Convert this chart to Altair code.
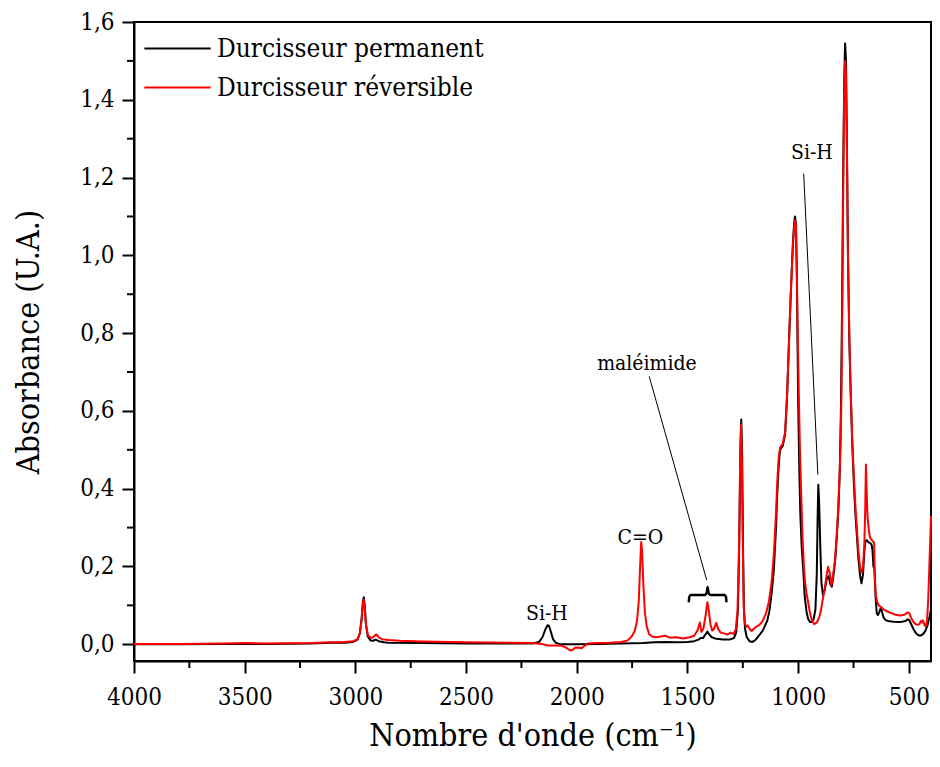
import altair as alt
import pandas as pd

SERIES = ["Durcisseur permanent", "Durcisseur réversible"]
COLORS = ["#000000", "#ff0000"]

PERMANENT = [
    (4000, 0.000), (3800, 0.000), (3600, 0.001), (3400, 0.001), (3200, 0.002), (3110, 0.004),
    (3050, 0.004), (3010, 0.006), (2990, 0.012), (2980, 0.028), (2972, 0.065), (2966, 0.110),
    (2962, 0.121), (2958, 0.100), (2952, 0.050), (2944, 0.020), (2932, 0.010), (2920, 0.009),
    (2908, 0.012), (2895, 0.008), (2870, 0.005), (2850, 0.004), (2700, 0.003), (2500, 0.002),
    (2300, 0.002), (2200, 0.002), (2170, 0.006), (2155, 0.018), (2142, 0.038), (2132, 0.049),
    (2125, 0.047), (2117, 0.032), (2108, 0.014), (2095, 0.004), (2080, 0.001), (2050, 0.000),
    (2000, 0.000), (1900, 0.001), (1800, 0.002), (1700, 0.003), (1650, 0.005), (1600, 0.006),
    (1550, 0.005), (1500, 0.006), (1470, 0.008), (1450, 0.012), (1440, 0.016), (1430, 0.016),
    (1420, 0.024), (1410, 0.033), (1400, 0.024), (1390, 0.018), (1370, 0.014), (1340, 0.012),
    (1310, 0.012), (1290, 0.016), (1280, 0.030), (1272, 0.090), (1266, 0.260), (1261, 0.500),
    (1257, 0.578), (1253, 0.480), (1249, 0.250), (1245, 0.090), (1240, 0.040), (1232, 0.018),
    (1220, 0.008), (1207, 0.006), (1195, 0.010), (1180, 0.020), (1160, 0.035), (1140, 0.060),
    (1130, 0.085), (1120, 0.130), (1110, 0.190), (1100, 0.300), (1095, 0.380), (1088, 0.460),
    (1082, 0.500), (1070, 0.510), (1059, 0.540), (1050, 0.640), (1040, 0.800), (1032, 0.920),
    (1024, 1.030), (1018, 1.085), (1014, 1.100), (1010, 1.080), (1006, 0.950), (1003, 0.780),
    (1000, 0.620), (995, 0.450), (990, 0.330), (984, 0.250), (977, 0.190), (970, 0.120),
    (962, 0.083), (955, 0.065), (947, 0.057), (938, 0.058), (930, 0.065), (922, 0.090),
    (916, 0.180), (912, 0.330), (909, 0.410), (905, 0.360), (900, 0.250), (895, 0.160),
    (888, 0.126), (880, 0.140), (870, 0.170), (862, 0.175), (855, 0.155), (848, 0.148),
    (840, 0.180), (832, 0.220), (825, 0.280), (818, 0.350), (812, 0.450), (807, 0.600),
    (802, 0.850), (797, 1.200), (792, 1.450), (788, 1.545), (784, 1.500), (780, 1.300),
    (775, 1.000), (769, 0.780), (763, 0.650), (756, 0.520), (749, 0.420), (742, 0.340),
    (735, 0.280), (728, 0.220), (720, 0.175), (714, 0.157), (707, 0.180), (701, 0.240),
    (696, 0.265), (690, 0.268), (682, 0.262), (674, 0.260), (668, 0.255), (664, 0.240),
    (660, 0.200), (656, 0.195), (650, 0.120), (645, 0.080), (640, 0.075), (634, 0.082),
    (628, 0.092), (622, 0.085), (615, 0.070), (605, 0.062), (593, 0.060), (570, 0.058),
    (540, 0.057), (515, 0.060), (505, 0.064), (498, 0.062), (490, 0.052), (480, 0.040),
    (470, 0.030), (459, 0.024), (448, 0.022), (436, 0.026), (425, 0.035), (415, 0.050),
    (407, 0.070), (400, 0.090),
]

REVERSIBLE = [
    (4000, 0.001), (3800, 0.001), (3600, 0.002), (3500, 0.003), (3400, 0.002), (3200, 0.003),
    (3110, 0.005), (3050, 0.006), (3010, 0.008), (2990, 0.013), (2980, 0.028), (2972, 0.062),
    (2966, 0.105), (2962, 0.115), (2958, 0.095), (2952, 0.050), (2944, 0.025), (2932, 0.016),
    (2920, 0.018), (2910, 0.024), (2904, 0.025), (2895, 0.018), (2880, 0.013), (2850, 0.011),
    (2800, 0.009), (2700, 0.007), (2500, 0.005), (2300, 0.004), (2200, 0.003), (2160, 0.001),
    (2130, -0.003), (2100, -0.003), (2065, -0.004), (2045, -0.010), (2030, -0.016),
    (2018, -0.014), (2005, -0.008), (1990, -0.009), (1978, -0.010), (1965, -0.004),
    (1950, 0.002), (1900, 0.003), (1850, 0.004), (1800, 0.006), (1770, 0.010), (1752, 0.020),
    (1738, 0.035), (1728, 0.060), (1720, 0.110), (1714, 0.200), (1709, 0.263), (1705, 0.240),
    (1699, 0.150), (1692, 0.080), (1684, 0.045), (1673, 0.026), (1660, 0.020), (1640, 0.018),
    (1620, 0.020), (1600, 0.022), (1580, 0.017), (1550, 0.018), (1520, 0.015), (1490, 0.018),
    (1470, 0.022), (1455, 0.035), (1444, 0.056), (1437, 0.032), (1428, 0.040), (1418, 0.075),
    (1410, 0.108), (1403, 0.085), (1396, 0.050), (1388, 0.035), (1380, 0.040), (1370, 0.055),
    (1362, 0.040), (1350, 0.030), (1335, 0.028), (1320, 0.025), (1305, 0.030), (1292, 0.026),
    (1282, 0.038), (1274, 0.085), (1267, 0.250), (1262, 0.480), (1258, 0.565), (1254, 0.470),
    (1250, 0.250), (1246, 0.100), (1241, 0.055), (1235, 0.045), (1228, 0.048), (1220, 0.040),
    (1210, 0.034), (1200, 0.040), (1190, 0.045), (1175, 0.050), (1160, 0.060), (1145, 0.080),
    (1132, 0.110), (1120, 0.160), (1110, 0.230), (1100, 0.340), (1094, 0.420), (1088, 0.480),
    (1082, 0.505), (1070, 0.515), (1059, 0.545), (1050, 0.640), (1040, 0.800), (1032, 0.920),
    (1024, 1.020), (1018, 1.075), (1014, 1.090), (1010, 1.075), (1006, 0.960), (1002, 0.800),
    (997, 0.640), (992, 0.500), (986, 0.380), (980, 0.270), (974, 0.200), (969, 0.160),
    (962, 0.130), (955, 0.108), (948, 0.085), (940, 0.065), (934, 0.058), (928, 0.052),
    (920, 0.054), (912, 0.060), (905, 0.070), (898, 0.085), (892, 0.105), (886, 0.125),
    (880, 0.143), (872, 0.175), (865, 0.199), (858, 0.185), (850, 0.152), (843, 0.175),
    (835, 0.210), (827, 0.270), (820, 0.340), (813, 0.430), (808, 0.520), (804, 0.660),
    (800, 0.900), (796, 1.200), (792, 1.420), (788, 1.500), (784, 1.470), (780, 1.280),
    (775, 1.000), (769, 0.800), (763, 0.660), (756, 0.530), (749, 0.440), (742, 0.360),
    (735, 0.300), (728, 0.240), (720, 0.195), (714, 0.185), (707, 0.200), (701, 0.260),
    (697, 0.350), (694, 0.462), (691, 0.400), (687, 0.330), (682, 0.300), (676, 0.275),
    (670, 0.270), (663, 0.265), (657, 0.262), (654, 0.180), (650, 0.130), (644, 0.110),
    (636, 0.100), (625, 0.095), (615, 0.090), (600, 0.085), (580, 0.080), (560, 0.076),
    (540, 0.074), (520, 0.076), (506, 0.082), (498, 0.080), (490, 0.068), (480, 0.058),
    (470, 0.052), (460, 0.050), (452, 0.052), (446, 0.060), (441, 0.056), (436, 0.062),
    (430, 0.050), (424, 0.046), (418, 0.060), (413, 0.110), (408, 0.190), (404, 0.260),
    (400, 0.330),
]

X_TICKS = [4000, 3500, 3000, 2500, 2000, 1500, 1000, 500]
X_MINOR = [3750, 3250, 2750, 2250, 1750, 1250, 750]
Y_TICKS = [0.0, 0.2, 0.4, 0.6, 0.8, 1.0, 1.2, 1.4, 1.6]
Y_MINOR = [0.1, 0.3, 0.5, 0.7, 0.9, 1.1, 1.3, 1.5]

LABEL_TEXT = ["Si-H", "C=O", "maléimide", "Si-H"]
LABEL_WN = [2135, 1713, 1683, 938]
LABEL_ABS = [0.077, 0.272, 0.72, 1.262]

LEADER_WN = [1673, 975]
LEADER_WN2 = [1413, 911]
LEADER_ABS = [0.689, 1.21]
LEADER_ABS2 = [0.165, 0.436]

BRACE = [
    (1494, 0.108), (1492, 0.121), (1486, 0.127), (1420, 0.127), (1413, 0.133), (1409, 0.147),
    (1405, 0.133), (1398, 0.127), (1332, 0.127), (1326, 0.121), (1324, 0.108),
]

FONT = "DejaVu Serif Condensed"
W, H = 797, 639

rows = [{"serie": SERIES[0], "wn": w, "A": a} for w, a in PERMANENT]
rows += [{"serie": SERIES[1], "wn": w, "A": a} for w, a in REVERSIBLE]
df = pd.DataFrame(rows)

xscale = alt.Scale(domain=[4000, 400], nice=False, zero=False)
yscale = alt.Scale(domain=[-0.043, 1.6], nice=False, zero=False)
xaxis = alt.Axis(title="Nombre d'onde (cm⁻¹)", values=X_TICKS, format="d",
                 labelPadding=12, labelFlush=False,
                 titleBaseline="alphabetic", titleY=84)
yaxis = alt.Axis(title="Absorbance (U.A.)", values=Y_TICKS,
                 labelExpr="replace(format(datum.value, '.1f'), '.', ',')",
                 labelPadding=8, labelFlush=False, titleBaseline="middle", titleX=-106)


def X(field):
    return alt.X(field, scale=xscale, axis=xaxis)


def Y(field):
    return alt.Y(field, scale=yscale, axis=yaxis)


lines = alt.Chart(df).mark_line(strokeWidth=2, strokeJoin="round").encode(
    x=X("wn:Q"),
    y=Y("A:Q"),
    color=alt.Color("serie:N", scale=alt.Scale(domain=SERIES, range=COLORS),
                    legend=alt.Legend(title=None, orient="none", legendX=9, legendY=14,
                                      symbolType="stroke", symbolSize=4400,
                                      symbolStrokeWidth=2, labelFont=FONT,
                                      labelFontSize=26, labelColor="black", labelLimit=500,
                                      labelOffset=5, clipHeight=25, rowPadding=12, padding=0)),
    order=alt.Order("wn:Q"),
)

xminor = alt.Chart(pd.DataFrame({"wn": X_MINOR})).mark_rule(color="black", strokeWidth=2).encode(
    x=X("wn:Q"), y=alt.value(H), y2=alt.value(H + 7))
yminor = alt.Chart(pd.DataFrame({"A": Y_MINOR})).mark_rule(color="black", strokeWidth=2).encode(
    y=Y("A:Q"), x=alt.value(0), x2=alt.value(-7))

labels = alt.Chart(pd.DataFrame({"t": LABEL_TEXT, "wn": LABEL_WN, "A": LABEL_ABS})).mark_text(
    font=FONT, fontSize=21, color="black", align="center", baseline="middle").encode(
    x=X("wn:Q"), y=Y("A:Q"), text="t:N")

leaders = alt.Chart(pd.DataFrame({"w1": LEADER_WN, "w2": LEADER_WN2, "a1": LEADER_ABS, "a2": LEADER_ABS2})).mark_rule(
    color="black", strokeWidth=1).encode(
    x=X("w1:Q"), x2="w2:Q", y=Y("a1:Q"), y2="a2:Q")

brace = alt.Chart(pd.DataFrame({"wn": [b[0] for b in BRACE], "A": [b[1] for b in BRACE], "i": list(range(len(BRACE)))})).mark_line(
    color="black", strokeWidth=2.5, interpolate="monotone").encode(
    x=X("wn:Q"), y=Y("A:Q"), order="i:Q")

chart = alt.layer(lines, xminor, yminor, leaders, brace, labels).properties(
    width=W, height=H,
    autosize=alt.AutoSizeParams(type="none"),
    padding={"left": 126, "top": 14, "right": 1, "bottom": 93},
).configure_axis(
    domainColor="black", domainWidth=2, tickColor="black", tickWidth=2, tickSize=12,
    labelFont=FONT, labelFontSize=24, labelColor="black",
    titleFont=FONT, titleFontSize=32, titleColor="black", titleFontWeight="normal", grid=False,
).configure_view(stroke="black", strokeWidth=2)

chart.save("out.html", embed_options={"renderer": "svg", "actions": False})
